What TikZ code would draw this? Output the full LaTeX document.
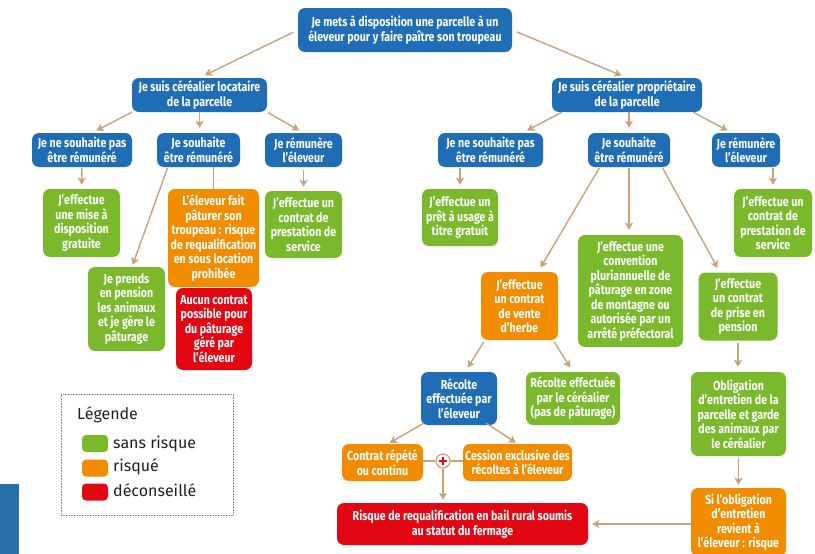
\documentclass[tikz,border=0pt]{standalone}
\usepackage{fontspec}
\setmainfont{Fira Sans}
\newfontfamily\boxfont{Fira Sans}[FakeStretch=0.82]
\newfontfamily\legfont{Fira Sans}
\usetikzlibrary{arrows.meta,calc}
\definecolor{cblue}{HTML}{1F6DB5}
\definecolor{cgreen}{HTML}{7AB92C}
\definecolor{corange}{HTML}{F18C00}
\definecolor{cred}{HTML}{E30613}
\definecolor{carrow}{HTML}{C9A27A}
\definecolor{cstrip}{HTML}{276FA8}
\definecolor{ctext}{HTML}{231F20}
\tikzset{
  box/.style={rounded corners=7pt, align=center, text=white, inner sep=0pt,
    font=\boxfont\bfseries\fontsize{13}{14.5}\selectfont},
  wh/.style 2 args={minimum width=#1pt, minimum height=#2pt},
  bbox/.style={box, fill=cblue},
  gbox/.style={box, fill=cgreen},
  obox/.style={box, fill=corange},
  rbox/.style={box, fill=cred},
  arr/.style={draw=carrow, line width=1.4pt, -{Stealth[length=7pt,width=8pt,inset=1.5pt]}},
  lin/.style={draw=carrow, line width=1.4pt},
  swatch/.style={rounded corners=4pt, minimum width=26pt, minimum height=17pt, inner sep=0pt},
  legtext/.style={anchor=west, text=ctext, inner sep=0pt, font=\legfont\fontsize{16}{18}\selectfont}
}
\begin{document}
\begin{tikzpicture}[x=1pt,y=-1pt]
\useasboundingbox (0,0) rectangle (815,554);
\clip (0,0) rectangle (815,554);
\fill[white] (0,0) rectangle (815,554);

% level 1
\node[bbox, wh={214}{44}] (top) at (405,30) {Je mets à disposition une parcelle à un\\éleveur pour y faire paître son troupeau};
% level 2
\node[bbox, wh={135}{34}] (loc) at (199.5,95) {Je suis céréalier locataire\\de la parcelle};
\node[bbox, wh={150}{34}] (prop) at (627,95) {Je suis céréalier propriétaire\\de la parcelle};
% level 3
\node[bbox, wh={100}{34}] (lnon) at (82,150) {Je ne souhaite pas\\être rémunéré};
\node[bbox, wh={83}{34}] (lsou) at (198.5,150) {Je souhaite\\être rémunéré};
\node[bbox, wh={77}{34}] (lrem) at (303.5,150) {Je rémunère\\l’éleveur};
\node[bbox, wh={105}{34}] (rnon) at (490.5,150) {Je ne souhaite pas\\être rémunéré};
\node[bbox, wh={82}{34}] (rsou) at (629,150) {Je souhaite\\être rémunéré};
\node[bbox, wh={68}{34}] (rrem) at (746,150) {Je rémunère\\l’éleveur};
% level 4 left
\node[gbox, wh={77}{68}] (lmise) at (81.5,223) {J’effectue\\une mise à\\disposition\\gratuite};
\node[obox, wh={91}{98}] (lorange) at (213.5,238) {L’éleveur fait\\pâturer son\\troupeau : risque\\de requalification\\en sous location\\prohibée};
\node[rbox, wh={76}{82}] (lred) at (214,329) {Aucun contrat\\possible pour\\du pâturage\\géré par\\l’éleveur};
\node[gbox, wh={77}{84}] (lpension) at (126.5,309) {Je prends\\en pension\\les animaux\\et je gère le\\pâturage};
\node[gbox, wh={77}{67}] (lpresta) at (303.5,224.5) {J’effectue un\\contrat de\\prestation de\\service};
% level 4 right
\node[gbox, wh={76}{57}] (rpret) at (460,217.5) {J’effectue un\\prêt à usage à\\titre gratuit};
\node[gbox, wh={78}{68}] (rpresta) at (773,223) {J’effectue un\\contrat de\\prestation de\\service};
\node[gbox, wh={105}{112}] (rconv) at (630.5,291) {J’effectue une\\convention\\pluriannuelle de\\pâturage en zone\\de montagne ou\\autorisée par un\\arrêté préfectoral};
\node[obox, wh={77}{68}] (rvente) at (519.5,306) {J’effectue\\un contrat\\de vente\\d’herbe};
\node[gbox, wh={79}{68}] (rprise) at (738,306.5) {J’effectue\\un contrat\\de prise en\\pension};
% level 5
\node[bbox, wh={76}{53}] (recel) at (459,398.5) {Récolte\\effectuée par\\l’éleveur};
\node[gbox, wh={94}{53}] (recce) at (573,398.5) {Récolte effectuée\\par le céréalier\\(pas de pâturage)};
\node[gbox, wh={95}{84}] (oblig) at (738.5,414) {Obligation\\d’entretien de la\\parcelle et garde\\des animaux par\\le céréalier};
\node[obox, wh={81}{37}] (contrat) at (382.5,462.5) {Contrat répété\\ou continu};
\node[obox, wh={109}{37}] (cession) at (517.5,462.5) {Cession exclusive des\\récoltes à l’éleveur};
\node[rbox, wh={251}{42}] (risque) at (462.5,524) {Risque de requalification en bail rural soumis\\au statut du fermage};
\node[obox, wh={95}{68}] (siobl) at (738.5,522) {Si l’obligation\\d’entretien\\revient à\\l’éleveur : risque};
\node[circle, draw=carrow, fill=white, line width=1.2pt, minimum size=14pt, inner sep=0pt] (plus) at (443,461) {};
\draw[cred, line width=1.4pt] ($(plus.center)+(-4,0)$) -- ($(plus.center)+(4,0)$);
\draw[cred, line width=1.4pt] ($(plus.center)+(0,-4)$) -- ($(plus.center)+(0,4)$);

% connectors
\draw[arr, shorten <=5pt, shorten >=6pt] (top.west) -- (loc.north);
\draw[arr, shorten <=5pt, shorten >=6pt] (top.east) -- (prop.north);
\draw[arr, shorten >=5pt] (loc.south west) -- ($(lnon.north)+(10,0)$);
\draw[arr, shorten >=5pt] (loc.south) -- (loc.south |- lsou.north);
\draw[arr, shorten <=1pt, shorten >=5pt] (loc.south east) -- (lrem.north);
\draw[arr, shorten >=5pt] ($(prop.south west)+(10,0)$) -- ($(rnon.north)+(32,0)$);
\draw[arr, shorten >=5pt] (prop.south -| rsou.north) -- (rsou.north);
\draw[arr, shorten >=5pt] ($(prop.south east)+(-9,0)$) -- ($(rrem.north)+(-14,0)$);

\draw[arr, shorten <=1pt, shorten >=4pt] (lnon.south) -- (lmise.north);
\draw[arr, shorten <=1pt, shorten >=2pt] ($(lsou.south west)+(11,0)$) -- ($(lpension.north)+(5.5,0)$);
\draw[lin] (lorange.north |- lsou.south) -- (lorange.north);
\draw[arr, shorten <=3pt, shorten >=4pt] (lrem.south) -- (lpresta.north);
\draw[arr, shorten <=1pt, shorten >=4pt] (rnon.south -| rpret.north) -- (rpret.north);
\draw[arr, shorten <=1pt, shorten >=4pt] (rpresta.north |- rrem.south) -- (rpresta.north);
\draw[arr, shorten <=1pt, shorten >=5pt] ($(rsou.south west)+(12,0)$) -- ($(rvente.north)+(18.5,0)$);
\draw[arr, shorten <=1pt, shorten >=5pt] (rsou.south) -- (rsou.south |- rconv.north);
\draw[arr, shorten <=1pt, shorten >=5pt] ($(rsou.south east)+(-8,0)$) -- ($(rprise.north)+(-18,0)$);

\draw[arr, shorten <=2pt, shorten >=5pt] ($(rvente.south west)+(4,0)$) -- ($(recel.north)+(6,0)$);
\draw[arr, shorten <=2pt, shorten >=5pt] ($(rvente.south east)+(-5,0)$) -- (recce.north);
\draw[arr, shorten <=2pt, shorten >=5pt] ($(rprise.south)$) -- (rprise.south |- oblig.north);
\draw[arr, shorten <=2pt, shorten >=3pt] (oblig.south) -- (oblig.south |- siobl.north);

\draw[arr, shorten <=0pt, shorten >=2pt] ($(recel.south west)+(3,-2)$) -- ($(contrat.north)+(5.5,0)$);
\draw[arr, shorten <=0pt, shorten >=2pt] ($(recel.south east)+(-11,-2)$) -- (cession.north);
\draw[lin] (contrat.east |- plus.west) -- (plus.west);
\draw[lin] (plus.east) -- (cession.west |- plus.east);
\draw[arr, shorten >=3pt] (plus.south) -- (plus.south |- risque.north);
\draw[arr, shorten >=4pt] (siobl.west |- risque.east) -- (risque.east);

% legend
\node[draw=gray, densely dotted, line width=0.6pt, minimum width=172pt, minimum height=121pt, inner sep=0pt] (legend) at (147,454.5) {};
\node[legtext] (legtitle) at (77,415) {Légende};
\node[swatch, fill=cgreen] (sw1) at (95,443.5) {};
\node[swatch, fill=corange] (sw2) at (95,468) {};
\node[swatch, fill=cred] (sw3) at (95,492) {};
\node[legtext] (lab1) at (113,443.5) {sans risque};
\node[legtext] (lab2) at (113,466.5) {risqué};
\node[legtext] (lab3) at (113,490.5) {déconseillé};

% left strip
\fill[cstrip] (0,484) rectangle (19,554);
\end{tikzpicture}
\end{document}
